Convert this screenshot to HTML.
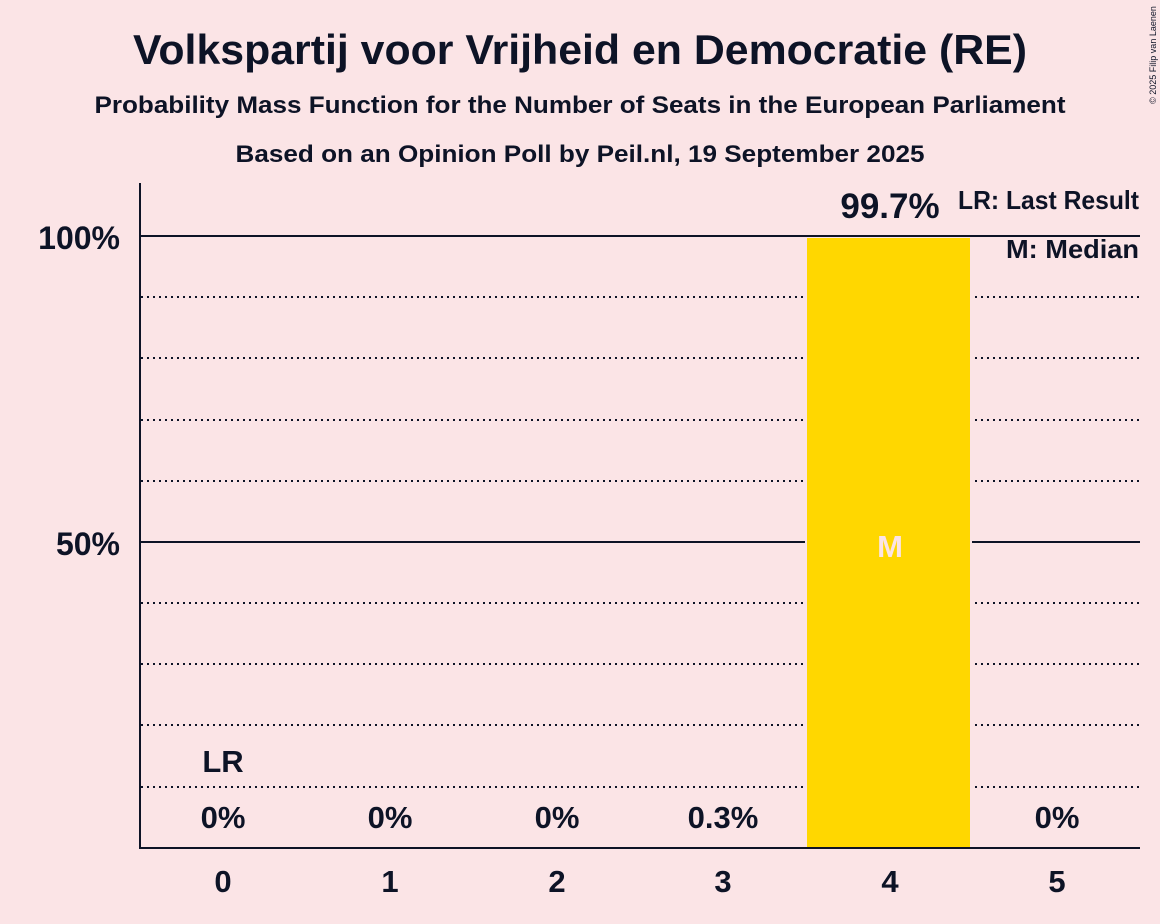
<!DOCTYPE html>
<html><head><meta charset="utf-8"><style>
html,body{margin:0;padding:0;background:#fbe4e6;}
svg{display:block;}
text{font-family:"Liberation Sans",sans-serif;fill:#0d1326;}
</style></head><body>
<svg width="1160" height="924" viewBox="0 0 1160 924" xmlns="http://www.w3.org/2000/svg">
<rect width="1160" height="924" fill="#fbe4e6"/>
<text x="580" y="64" text-anchor="middle" font-size="42" font-weight="bold" textLength="894" lengthAdjust="spacingAndGlyphs">Volkspartij voor Vrijheid en Democratie (RE)</text>
<text x="580" y="113" text-anchor="middle" font-size="24" font-weight="bold" textLength="971" lengthAdjust="spacingAndGlyphs">Probability Mass Function for the Number of Seats in the European Parliament</text>
<text x="580" y="162" text-anchor="middle" font-size="24" font-weight="bold" textLength="689" lengthAdjust="spacingAndGlyphs">Based on an Opinion Poll by Peil.nl, 19 September 2025</text>
<text transform="translate(1156,55) rotate(-90)" text-anchor="middle" font-size="9" style="fill:#0d1326">© 2025 Filip van Laenen</text>
<g stroke="#0d1326" stroke-width="2" stroke-dasharray="2,4">
<line x1="141" x2="1140" y1="297" y2="297"/><line x1="141" x2="1140" y1="358" y2="358"/>
<line x1="141" x2="1140" y1="420" y2="420"/><line x1="141" x2="1140" y1="481" y2="481"/>
<line x1="141" x2="1140" y1="603" y2="603"/><line x1="141" x2="1140" y1="664" y2="664"/>
<line x1="141" x2="1140" y1="725" y2="725"/><line x1="141" x2="1140" y1="787" y2="787"/>
</g>
<g stroke="#0d1326" stroke-width="2">
<line x1="140" x2="1140" y1="236" y2="236"/>
<line x1="140" x2="1140" y1="542" y2="542"/>
</g>
<rect x="805" y="238" width="167" height="612" fill="#fbe4e6"/>
<rect x="807" y="238" width="163" height="610" fill="#ffd700"/>
<g stroke="#0d1326" stroke-width="2">
<line x1="140" x2="140" y1="183" y2="849"/>
<line x1="139" x2="1140" y1="848" y2="848"/>
</g>
<g font-size="32" font-weight="bold" text-anchor="end">
<text x="120" y="249">100%</text><text x="120" y="555">50%</text>
</g>
<g font-size="31" font-weight="bold" text-anchor="middle">
<text x="223" y="892">0</text><text x="390" y="892">1</text><text x="557" y="892">2</text>
<text x="723" y="892">3</text><text x="890" y="892">4</text><text x="1057" y="892">5</text>
<text x="223" y="772">LR</text>
</g>
<g font-size="31" font-weight="bold" text-anchor="middle">
<text x="223" y="828">0%</text><text x="390" y="828">0%</text><text x="557" y="828">0%</text>
<text x="723" y="828">0.3%</text><text x="1057" y="828">0%</text>
<text x="890" y="218" font-size="35">99.7%</text>
<text x="890" y="557" style="fill:#fbe4e6">M</text>
</g>
<g font-size="26" font-weight="bold">
<text x="958" y="209" textLength="181" lengthAdjust="spacingAndGlyphs">LR: Last Result</text>
<text x="1006" y="258" textLength="133" lengthAdjust="spacingAndGlyphs">M: Median</text>
</g>
</svg>
</body></html>
